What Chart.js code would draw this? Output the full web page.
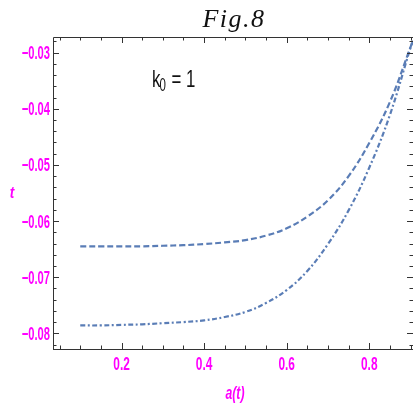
<!DOCTYPE html>
<html>
<head>
<meta charset="utf-8">
<script src="https://cdn.jsdelivr.net/npm/chart.js@4.4.0/dist/chart.umd.min.js"></script>
<style>
  html, body { margin: 0; padding: 0; background: #fff; }
  .graph { width: 415px; height: 403px; }
</style>
</head>
<body>
<div class="graph"><canvas id="c" width="415" height="403"></canvas></div>
<script>
// values
const aValues = [0.1, 0.15, 0.2, 0.25, 0.3, 0.35, 0.4, 0.45, 0.5, 0.55, 0.6, 0.65, 0.7, 0.75, 0.8, 0.85, 0.9, 0.906];
const upperT = [-0.0645, -0.0645, -0.0645, -0.0645, -0.0644, -0.0643, -0.0641, -0.0638, -0.0634, -0.0626, -0.0613, -0.0592, -0.0563, -0.0520, -0.0461, -0.0388, -0.0290, -0.0278];
const lowerT = [-0.0786, -0.0786, -0.0785, -0.0784, -0.0782, -0.0780, -0.0777, -0.0771, -0.0762, -0.0746, -0.0723, -0.0689, -0.0641, -0.0581, -0.0505, -0.0411, -0.0291, -0.0279];

const xTicks = [0.2, 0.4, 0.6, 0.8];
const yTicks = [-0.08, -0.07, -0.06, -0.05, -0.04, -0.03];
const xMinor = [0.05, 0.1, 0.15, 0.25, 0.3, 0.35, 0.45, 0.5, 0.55, 0.65, 0.7, 0.75, 0.85, 0.9];
const yMinor = [];
for (let v = -82; v <= -28; v += 2) {
    if (v % 10 !== 0) yMinor.push(v / 1000);
}

const lineColor = '#5a7db6';
const labelColor = '#ff00ff';
const sans = "'Liberation Sans', Arial, sans-serif";

const toPoints = (xs, ys) => xs.map((x, i) => ({ x, y: ys[i] }));

// condensed text: the original uses a narrow face
const squeezed = (ctx, str, x, y, font, align, sx) => {
    ctx.save();
    ctx.font = font;
    ctx.textAlign = align;
    ctx.translate(x, y);
    ctx.scale(sx, 1);
    ctx.fillText(str, 0, 0);
    const w = ctx.measureText(str).width * sx;
    ctx.restore();
    return w;
};

const frame = {
    id: 'frame',
    afterDraw(chart) {
        const { ctx, chartArea: a, scales: { x, y } } = chart;
        ctx.save();
        ctx.strokeStyle = '#333';
        ctx.lineWidth = 1;
        ctx.beginPath();
        ctx.moveTo(a.left + 0.5, a.bottom + 0.5);
        ctx.lineTo(a.left + 0.5, a.top + 0.5);
        ctx.lineTo(a.right, a.top + 0.5);
        ctx.moveTo(a.left, a.bottom + 0.5);
        ctx.lineTo(a.right, a.bottom + 0.5);
        ctx.stroke();

        const tick = (vals, len, axis) => {
            ctx.beginPath();
            for (const v of vals) {
                if (axis === 'x') {
                    const px = Math.round(x.getPixelForValue(v)) + 0.5;
                    ctx.moveTo(px, a.bottom); ctx.lineTo(px, a.bottom - len);
                    ctx.moveTo(px, a.top); ctx.lineTo(px, a.top + len);
                } else {
                    const py = Math.round(y.getPixelForValue(v)) + 0.5;
                    ctx.moveTo(a.left, py); ctx.lineTo(a.left + len, py);
                    ctx.moveTo(a.right, py); ctx.lineTo(a.right - len, py);
                }
            }
            ctx.stroke();
        };
        tick(xTicks, 6, 'x');
        tick(xMinor, 3.5, 'x');
        tick(yTicks, 6, 'y');
        tick(yMinor, 3.5, 'y');

        // tick labels
        ctx.fillStyle = labelColor;
        ctx.textBaseline = 'alphabetic';
        for (const v of yTicks) {
            const py = y.getPixelForValue(v);
            squeezed(ctx, '\u2212' + Math.abs(v).toFixed(2), a.left - 3, py + 6.5, 'bold 18px ' + sans, 'right', 0.62);
        }
        for (const v of xTicks) {
            const px = x.getPixelForValue(v);
            squeezed(ctx, v.toFixed(1), px, 370, 'bold 18px ' + sans, 'center', 0.66);
        }

        // axis labels
        squeezed(ctx, 't', 12, 198, 'italic bold 17px ' + sans, 'center', 0.8);
        squeezed(ctx, 'a(t)', 235, 399, 'italic bold 18px ' + sans, 'center', 0.68);

        // title
        ctx.fillStyle = '#111';
        ctx.font = "italic 26px 'Liberation Serif', serif";
        ctx.letterSpacing = '1.5px';
        ctx.textAlign = 'center';
        ctx.fillText('Fig.8', 234, 27);
        ctx.letterSpacing = '0px';

        // annotation
        let cx = 152;
        cx += squeezed(ctx, 'k', cx, 87, '24px ' + sans, 'left', 0.7);
        cx += squeezed(ctx, '0', cx - 1, 91, '18px ' + sans, 'left', 0.64);
        squeezed(ctx, ' = 1', cx, 87, '24px ' + sans, 'left', 0.7);
        ctx.restore();
    }
};

new Chart(document.getElementById('c'), {
    type: 'line',
    data: {
        datasets: [
            {
                data: toPoints(aValues, upperT),
                borderColor: lineColor,
                borderWidth: 2.2,
                borderDash: [6, 3],
                pointRadius: 0,
                tension: 0.4,
                fill: false
            },
            {
                data: toPoints(aValues, lowerT),
                borderColor: lineColor,
                borderWidth: 2.2,
                borderDash: [5, 2.5, 2, 2.5],
                pointRadius: 0,
                tension: 0.4,
                fill: false
            }
        ]
    },
    options: {
        responsive: false,
        animation: false,
        layout: { padding: { top: 37, right: 2, bottom: 2, left: 0 } },
        plugins: { legend: { display: false }, tooltip: { enabled: false } },
        scales: {
            x: {
                type: 'linear',
                min: 0.034,
                max: 0.906,
                afterFit: s => { s.height = 52; },
                grid: { display: false, drawTicks: false },
                border: { display: false },
                ticks: { display: false }
            },
            y: {
                type: 'linear',
                min: -0.0828,
                max: -0.0272,
                afterFit: s => { s.width = 53; },
                grid: { display: false, drawTicks: false },
                border: { display: false },
                ticks: { display: false }
            }
        }
    },
    plugins: [frame]
});
</script>
</body>
</html>
